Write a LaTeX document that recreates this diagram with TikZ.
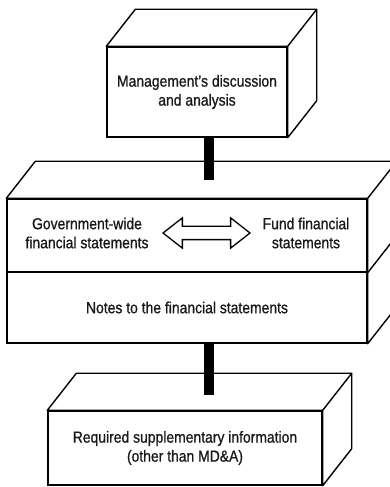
\documentclass[tikz,border=0pt]{standalone}
\usepackage{fontspec}
\setmainfont[FakeStretch=0.87, FakeBold=0.8]{Liberation Sans}
\usepackage{tikz}
\usetikzlibrary{arrows.meta}
\usetikzlibrary{positioning, shapes.geometric, shapes.arrows}

\begin{document}
\begin{tikzpicture}[x=1pt, y=1pt]
	\tikzstyle{every node}=[text=black!90, font=\fontsize{16}{19}\selectfont, align=center]
	\tikzstyle{face}=[draw, fill=white, line width=1.4pt, inner sep=0pt]
	\tikzstyle{side}=[draw, fill=white, line width=1.4pt, line join=round]
	\tikzstyle{bar}=[line width=10pt, black]
	\clip (0, 0) rectangle (390, 487);
	% top box
	\node[face, minimum width=180, minimum height=90] (mda) at (197, 395) {Management's discussion\\and analysis};
	\draw[side] (mda.north west) -- ++(29, 37) -- ([shift={(29,37)}]mda.north east) -- ([shift={(29,37)}]mda.south east) -- (mda.south east) -- (mda.north east) -- cycle;
	\draw[side] (mda.north east) -- ++(29, 37);
	% basic financial statements
	\node[face, minimum width=360, minimum height=73] (gw) at (187, 251.5) {};
	\node[face, minimum width=360, minimum height=71] (notes) at (187, 179.5) {Notes to the financial statements};
	\draw[side] (gw.north west) -- ++(29, 37) -- ([shift={(29,37)}]gw.north east) -- ([shift={(29,37)}]notes.south east) -- (notes.south east) -- (gw.north east) -- cycle;
	\draw[side] (gw.north east) -- ++(29, 37);
	\draw[side] (gw.south east) -- ++(29, 37);
	\node (gov) at (87, 254) {Government-wide\\financial statements};
	\node (fund) at (306, 254) {Fund financial\\statements};
	\node[double arrow, draw, fill=white, line width=1.3pt, minimum height=87, inner xsep=0pt, inner ysep=6pt, double arrow head extend=8.5, double arrow tip angle=76] (link) at (206.5, 254) {};
	\coordinate (stmt top) at (209, 307);
	\draw[bar] (mda.south -| stmt top) -- (stmt top);
	% required supplementary information
	\node[face, minimum width=274, minimum height=74] (rsi) at (185, 39) {Required supplementary information\\(other than MD\&A)};
	\draw[side] (rsi.north west) -- ++(29, 37) -- ([shift={(29,37)}]rsi.north east) -- ([shift={(29,37)}]rsi.south east) -- (rsi.south east) -- (rsi.north east) -- cycle;
	\draw[side] (rsi.north east) -- ++(29, 37);
	\coordinate (rsi top) at (209, 92);
	\draw[bar] (notes.south -| rsi top) -- (rsi top);
\end{tikzpicture}
\end{document}
